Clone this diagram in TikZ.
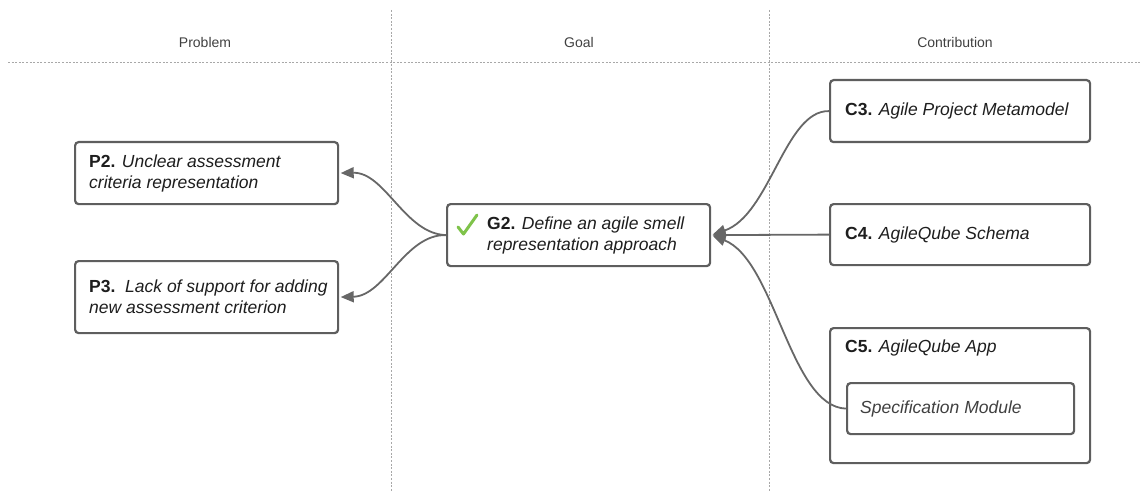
\documentclass[tikz,border=0pt]{standalone}
\usepackage{fontspec}
\setmainfont{Liberation Sans}
\usetikzlibrary{arrows.meta}
\definecolor{boxline}{HTML}{5E5E5E}
\definecolor{wire}{HTML}{676767}
\definecolor{ink}{HTML}{1E1E1E}
\definecolor{lane}{HTML}{A8A8A8}
\definecolor{tick}{HTML}{7FC34A}
\begin{document}
\begin{tikzpicture}[x=1pt,y=-1pt,
  box/.style={draw=boxline, line width=2.2pt, rounded corners=3.5pt, fill=white, anchor=north west, inner sep=0},
  txt/.style={inner sep=0, align=left, text=ink, font=\fontsize{17.5}{21}\selectfont},
  hdr/.style={inner sep=0, text=ink!85, font=\fontsize{14}{16}\selectfont},
  lanesep/.style={draw=lane, line width=0.8pt, dash pattern=on 2pt off 1.6pt},
  conn/.style={draw=wire, line width=1.8pt, -{Triangle[length=13pt,width=11pt]}, shorten >=1.5pt},
  checkmark/.style={draw=tick, line width=3pt, line cap=round, line join=round}]
\useasboundingbox (0,0) rectangle (1140,492);

% lane separators
\coordinate (hl) at (8,62);   \coordinate (hr) at (1140,62);
\coordinate (v1t) at (391,10); \coordinate (v1b) at (391,492);
\coordinate (v2t) at (769,10); \coordinate (v2b) at (769,492);
\draw[lanesep] (hl) -- (hr);
\draw[lanesep] (v1t) -- (v1b);
\draw[lanesep] (v2t) -- (v2b);

% lane headers
\node[hdr] (hprob) at (205,42) {Problem};
\node[hdr] (hgoal) at (579,42) {Goal};
\node[hdr] (hcont) at (955,42) {Contribution};

% problems
\node[box, minimum width=263pt, minimum height=62pt] (p2) at (74,141) {};
\node[txt, anchor=west] (p2t) at ([xshift=15pt]p2.west)
  {\textbf{P2.} \textit{Unclear assessment}\\\textit{criteria representation}};
\node[box, minimum width=263pt, minimum height=72pt] (p3) at (74,260) {};
\node[txt, anchor=west] (p3t) at ([xshift=15pt]p3.west)
  {\textbf{P3.}\ \ \textit{Lack of support for adding}\\\textit{new assessment criterion}};

% goal
\node[box, minimum width=263pt, minimum height=62pt] (g2) at (446,203) {};
\node[txt, anchor=west] (g2t) at ([xshift=41pt]g2.west)
  {\textbf{G2.} \textit{Define an agile smell}\\\textit{representation approach}};
\draw[checkmark] (458,227) -- (463.5,234) -- (477,215);

% contributions
\node[box, minimum width=260pt, minimum height=62pt] (c3) at (829,79) {};
\node[txt, anchor=west] (c3t) at ([xshift=16pt]c3.west)
  {\textbf{C3.} \textit{Agile Project Metamodel}};
\node[box, minimum width=260pt, minimum height=61pt] (c4) at (829,203) {};
\node[txt, anchor=west] (c4t) at ([xshift=16pt]c4.west)
  {\textbf{C4.} \textit{AgileQube Schema}};
\node[box, minimum width=260pt, minimum height=135pt] (c5) at (829,327) {};
\node[txt, anchor=base west] (c5t) at (845,352)
  {\textbf{C5.} \textit{AgileQube App}};
\node[box, minimum width=227pt, minimum height=51pt] (spec) at (846,382) {};
\node[txt, anchor=west, text=ink!85] (spect) at ([xshift=14pt]spec.west)
  {\textit{Specification Module}};

% connectors
\draw[conn] (g2.west) .. controls (405,234) and (385,172) .. (p2.east);
\draw[conn] (g2.west) .. controls (405,234) and (385,296) .. (p3.east);
\draw[conn] (c3.west) .. controls (785,110) and (770,215) .. (g2.east);
\draw[conn] (c4.west) -- (g2.east);
\draw[conn] (spec.west) .. controls (790,407) and (775,260) .. (g2.east);
\end{tikzpicture}
\end{document}
